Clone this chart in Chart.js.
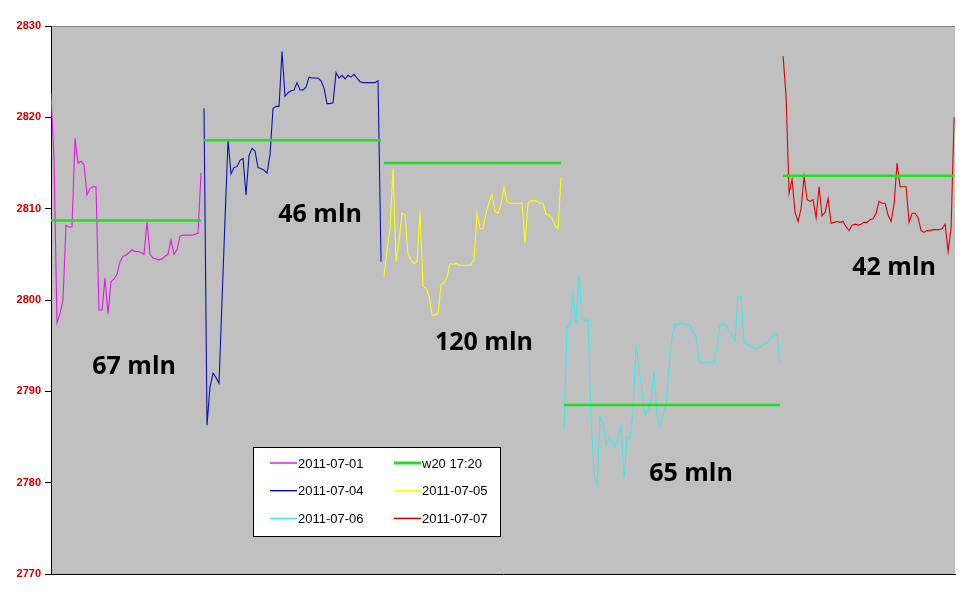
<!DOCTYPE html>
<html>
<head>
<meta charset="UTF-8">
<title>w20 17:20</title>
<script src="https://cdn.jsdelivr.net/npm/chart.js"></script>
<style>
  html, body { margin: 0; padding: 0; background: #fff; }
  #wrap { width: 968px; height: 601px; }
</style>
</head>
<body>
<div id="wrap"><canvas id="chart"></canvas></div>
<script>
// sesje i numer pierwszej próbki każdej z nich
const days = ["2011-07-01", "2011-07-04", "2011-07-05", "2011-07-06", "2011-07-07"];
const dayStart = [0, 51, 111, 171, 244];
const dayColors = ["#e01be0", "#1010b0", "#ffff00", "#40e8e8", "#e00000"];

const d0701 = [2822.6, 2815.5, 2797.5, 2798.5, 2800, 2808.2, 2808, 2808, 2817.7, 2815,
  2815.2, 2814.8, 2811.5, 2812.2, 2812.4, 2812.4, 2798.9, 2798.9, 2802.4, 2798.5,
  2802, 2802.3, 2802.8, 2804.2, 2804.8, 2804.9, 2805.2, 2805.5, 2805.3, 2805.3,
  2805.2, 2805, 2808.6, 2805, 2804.6, 2804.5, 2804.4, 2804.5, 2804.8, 2805,
  2806.6, 2805, 2805.5, 2807, 2807.1, 2807.1, 2807.1, 2807.1, 2807.2, 2807.3, 2813.9];
const d0704 = [2821, 2786.3, 2790.5, 2792, 2791.5, 2790.9, 2800, 2808.8, 2817.5, 2813.8,
  2814.5, 2814.6, 2815.3, 2815.5, 2811.5, 2815.8, 2816.6, 2816.3, 2814.5, 2814.4,
  2814.2, 2813.9, 2815.9, 2821.0, 2821.2, 2821.2, 2827.2, 2822.3, 2822.7, 2822.9,
  2823, 2823.8, 2823, 2823, 2823.3, 2824.4, 2824.3, 2824.3, 2824.3, 2824,
  2823.2, 2821.5, 2821.5, 2821.6, 2824.9, 2824.3, 2824.6, 2824.2, 2824.6, 2824.4,
  2824.7, 2824.3, 2823.9, 2823.8, 2823.8, 2823.8, 2823.8, 2823.8, 2824.0, 2804.2];
const d0705 = [2802.6, 2805.5, 2807.8, 2814.4, 2804.2, 2806.5, 2809.5, 2809.3, 2805, 2804.4,
  2804, 2804.2, 2809.7, 2801.5, 2801.3, 2800.5, 2798.3, 2798.4, 2798.5, 2801.7,
  2801.9, 2802.5, 2804, 2803.9, 2804, 2803.8, 2803.8, 2803.8, 2803.8, 2803.8,
  2804.5, 2809.5, 2807.8, 2807.8, 2809.5, 2810.7, 2811.5, 2809.7, 2809.5, 2810.5,
  2812.3, 2810.8, 2810.6, 2810.6, 2810.6, 2810.6, 2810.6, 2806.2, 2810.6, 2810.8,
  2810.9, 2810.8, 2810.6, 2810.6, 2809.4, 2809.3, 2808.9, 2808.2, 2807.8, 2813.5];
const d0706 = [2785.8, 2797.1, 2797.2, 2800.5, 2797.5, 2802.8, 2797.9, 2797.8, 2797.8, 2786.8,
  2781.2, 2779.7, 2787.2, 2786.6, 2784, 2785, 2784.5, 2783.9, 2785, 2786.3,
  2780.5, 2784.9, 2784.9, 2787.8, 2795, 2792.5, 2790, 2787.4, 2788, 2789,
  2792.3, 2787.2, 2786.2, 2787.5, 2788.5, 2792.7, 2796, 2797.3, 2797.3, 2797.5,
  2797.3, 2797.3, 2797.2, 2796.4, 2796, 2793.3, 2793.1, 2793.2, 2793.1, 2793.1,
  2793.1, 2795, 2797.3, 2797.4, 2797.2, 2796.6, 2796.1, 2795.5, 2800.4, 2800.4,
  2795.4, 2795.1, 2795, 2794.8, 2794.6, 2794.8, 2795, 2795.2, 2795.4, 2795.8,
  2796.3, 2796.2, 2793];
const d0707 = [2826.7, 2822.3, 2811.7, 2813.2, 2809.6, 2808.6, 2810, 2813.5, 2811, 2810.8,
  2811, 2809, 2812.4, 2809.2, 2809.6, 2811.1, 2808.4, 2808.5, 2808.6, 2808.5,
  2808.6, 2808, 2807.6, 2808.2, 2808.3, 2808.2, 2808.3, 2808.5, 2808.5, 2808.8,
  2808.9, 2809.5, 2810.8, 2810.6, 2810.6, 2809.3, 2808.6, 2810.5, 2815, 2812.4,
  2812.4, 2812.4, 2808.5, 2809.5, 2809.5, 2809, 2807.6, 2807.4, 2807.6, 2807.6,
  2807.7, 2807.7, 2807.7, 2807.8, 2808.3, 2805.3, 2807.9, 2820];
const daySeries = [d0701, d0704, d0705, d0706, d0707];

// poziom w20 o 17:20 dla każdej sesji
const w20Label = "w20 17:20";
const w20 = [2808.7, 2817.5, 2815.0, 2788.5, 2813.6];

// obroty sesji i miejsce podpisu (próbka, wartość)
const volumes = ["67 mln", "46 mln", "120 mln", "65 mln", "42 mln"];
const volumeAt = [[27.7, 2792.7], [89.7, 2809.3], [144.3, 2795.3], [213.3, 2781.0], [281, 2803.5]];

const yTicks = [2770, 2780, 2790, 2800, 2810, 2820, 2830];

function dayData(k) {
  return daySeries[k].map((v, i) => ({ x: dayStart[k] + i, y: v }));
}

// linia w20: odcinek na każdą sesję, przerwa między nimi
const w20Data = [];
w20.forEach((v, k) => {
  const a = dayStart[k], b = a + daySeries[k].length - 1;
  w20Data.push({ x: a, y: v }, { x: b, y: v }, { x: b + 0.5, y: null });
});

function seriesSet(k) {
  return {
    label: days[k], data: dayData(k), borderColor: dayColors[k],
    borderWidth: 1.1, pointRadius: 0, tension: 0, order: 1
  };
}

const datasets = [
  seriesSet(0),
  { label: w20Label, data: w20Data, borderColor: "#22dd22", borderWidth: 2.5, pointRadius: 0, order: 0 },
  seriesSet(1), seriesSet(2), seriesSet(3), seriesSet(4)
];

const plotBg = {
  id: 'plotBg',
  beforeDraw(chart) {
    const { ctx, chartArea: a } = chart;
    ctx.save();
    ctx.fillStyle = '#c0c0c0';
    ctx.fillRect(a.left, a.top, a.right - a.left, a.bottom - a.top);
    ctx.strokeStyle = '#808080';
    ctx.lineWidth = 1;
    ctx.beginPath();
    ctx.moveTo(a.left, a.top + 0.5);
    ctx.lineTo(a.right, a.top + 0.5);
    ctx.stroke();
    ctx.restore();
  }
};

const volumeNotes = {
  id: 'volumeNotes',
  afterDatasetsDraw(chart) {
    const { ctx, scales } = chart;
    ctx.save();
    ctx.font = 'bold 25px "Open Sans", "DejaVu Sans", sans-serif';
    ctx.fillStyle = '#000';
    ctx.textAlign = 'center';
    ctx.textBaseline = 'middle';
    volumes.forEach((t, k) => {
      ctx.fillText(t, scales.x.getPixelForValue(volumeAt[k][0]), scales.y.getPixelForValue(volumeAt[k][1]));
    });
    ctx.restore();
  }
};

// legenda w ramce wewnątrz wykresu, dwie kolumny
const boxLegend = {
  id: 'boxLegend',
  afterDraw(chart) {
    const c = chart.ctx;
    c.save();
    c.fillStyle = '#fff';
    c.fillRect(253.5, 447.5, 247, 89);
    c.strokeStyle = '#000';
    c.lineWidth = 1;
    c.strokeRect(253.5, 447.5, 247, 89);
    c.font = '13px "Liberation Sans", Arial, sans-serif';
    c.textBaseline = 'middle';
    c.textAlign = 'left';
    chart.data.datasets.forEach((d, k) => {
      const x = (k % 2) ? 394 : 270;
      const y = 463 + Math.floor(k / 2) * 27.7;
      c.strokeStyle = d.borderColor;
      c.lineWidth = d.borderWidth > 2 ? 3 : 1.5;
      c.beginPath();
      c.moveTo(x, y);
      c.lineTo(x + 27, y);
      c.stroke();
      c.fillStyle = '#000';
      c.fillText(d.label, x + 28, y + 1);
    });
    c.restore();
  }
};

new Chart(document.getElementById('chart'), {
  type: 'line',
  data: { datasets },
  options: {
    responsive: true,
    maintainAspectRatio: false,
    animation: false,
    layout: { padding: { top: 26, bottom: 27, left: 0, right: 13 } },
    plugins: { legend: { display: false }, tooltip: { enabled: false } },
    scales: {
      x: {
        type: 'linear', min: 0, max: 301.3,
        ticks: { display: false },
        grid: { display: false },
        border: { color: '#000', width: 1 },
        afterFit(s) { s.height = 0; }
      },
      y: {
        min: yTicks[0], max: yTicks[yTicks.length - 1],
        afterBuildTicks(s) { s.ticks = yTicks.map(v => ({ value: v })); },
        ticks: {
          color: '#cc0000', padding: 4,
          callback: v => String(v),
          font: { family: '"Liberation Sans", Arial, sans-serif', size: 11, weight: 'bold' }
        },
        grid: { drawOnChartArea: false, color: '#000', tickLength: 6 },
        border: { color: '#000', width: 1 },
        afterFit(s) { s.width = 51; }
      }
    }
  },
  plugins: [plotBg, volumeNotes, boxLegend]
});
</script>
</body>
</html>
